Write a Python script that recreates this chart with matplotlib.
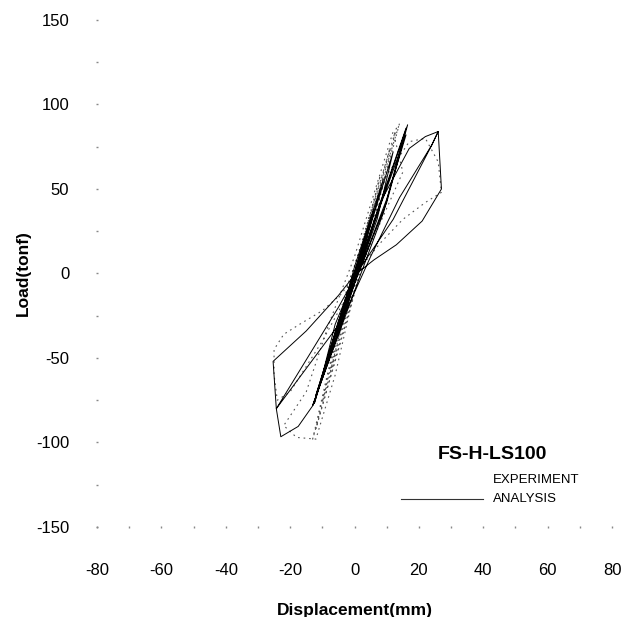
#!/usr/bin/env python3
"""FS-H-LS100 – load vs displacement hysteresis (experiment vs analysis)."""
import matplotlib
matplotlib.use("Agg")
import matplotlib.pyplot as plt

plt.rcParams["font.family"] = ["Liberation Sans", "DejaVu Sans"]
plt.rcParams["axes.unicode_minus"] = False

# -----------------------------
# Data
# -----------------------------
# analysis path (mm, tonf)
ana_disp = [0, 3.5, -0.5, -3, 0.5, 6, 0, -5.5, 0, 9, 3, -1, -8, -3, 1,
            12, 7, 1, -10.5, -6, 1, 16.5, 10, 2, -5, -12.5, -7, 0, 16, 9, 2, -13, -4,
            8, 17, 22, 26, 27, 21, 13, 6, 0, -5, -15, -25.3, -24.3,
            -4, 5, 14, 24, 26, 24, 12, 2, -5, -24.3, -22.9, -17.5,
            -12.9, -5, 0, 8, 16, 10, 2, -6, -12, -1]
ana_load = [0, 22, -3, -20, 4, 38, -2, -36, 4, 56, 16, -4, -50, -16, 4,
            72, 32, 0, -64, -30, 2, 88, 42, 4, -28, -77, -42, -2, 86, 36, 0, -78, -30,
            42, 74, 81, 84, 50, 31, 17, 8, -1, -13, -34, -52, -80,
            -28, 10, 45, 76, 84, 76, 32, 4, -20, -80, -96.6, -90.5,
            -78, -35, -5, 40, 82, 44, 4, -36, -72, -4]

# experiment path (mm, tonf)
exp_disp = [0, 2.5, -0.5, -2.5, 0.3, 5, 0, -5, 0.5, 8, 1, -7.5, -0.5,
            11, 2, -10, -1, 14, 3, -12, -2, 13, 3, -13, -2,
            10, 17, 22, 26, 27, 22, 15, 8, 2, -4, -10, -17, -22, -25,
            -25, -24, -20, -10, 0, 8, 15, 12, 0, -8, -15, -22, -18, -12, -6, 0]
exp_load = [0, 18, -2, -20, 3, 36, -1, -38, 4, 58, 3, -58, -3,
            74, 6, -76, -5, 89, 10, -92, -8, 86, 8, -98, -6,
            58, 78, 80, 66, 48, 42, 32, 18, 4, -12, -22, -30, -36, -45,
            -60, -75, -70, -40, -5, 30, 60, 84, 10, -30, -70, -90, -97, -98, -60, -10]

# axes
x_ticks = list(range(-80, 81, 20))
x_minor = list(range(-80, 81, 10))
y_ticks = list(range(-150, 151, 50))
y_minor = list(range(-150, 151, 25))

# -----------------------------
# Plot
# -----------------------------
fig = plt.figure(figsize=(6.4, 6.17), dpi=100)
ax = fig.add_axes([0.1516, 0.1459, 0.8047, 0.8217])

ax.plot(exp_disp, exp_load, color="#555555", lw=0.8, dashes=(1.5, 3.5))
ax.plot(ana_disp, ana_load, color="black", lw=0.7)

ax.set_xlim(-80, 80)
ax.set_ylim(-150, 150)
for s in ax.spines.values():
    s.set_visible(False)

ax.set_xticks(x_ticks)
ax.set_xticks(x_minor, minor=True)
ax.set_yticks(y_ticks)
ax.set_yticks(y_minor, minor=True)
ax.tick_params(which="both", direction="inout", length=2, width=1.0, color="#888888")
ax.tick_params(axis="x", which="major", pad=25, labelsize=12)
ax.tick_params(axis="y", which="major", pad=19, labelsize=12)

ax.set_xlabel("Displacement(mm)", fontsize=12.5, fontweight="bold", labelpad=18)
ax.set_ylabel("Load(tonf)", fontsize=12.5, fontweight="bold", labelpad=4)

# legend block
ax.text(0.768, 0.142, "FS-H-LS100", transform=ax.transAxes, ha="center",
        va="center", fontsize=14, fontweight="bold")
ax.text(0.768, 0.093, "EXPERIMENT", transform=ax.transAxes, ha="left",
        va="center", fontsize=9.5)
ax.text(0.768, 0.055, "ANALYSIS", transform=ax.transAxes, ha="left",
        va="center", fontsize=9.5)
ax.plot([0.590, 0.749], [0.055, 0.055], transform=ax.transAxes,
        color="#333333", lw=0.8)

fig.savefig("out.png", dpi=100)
